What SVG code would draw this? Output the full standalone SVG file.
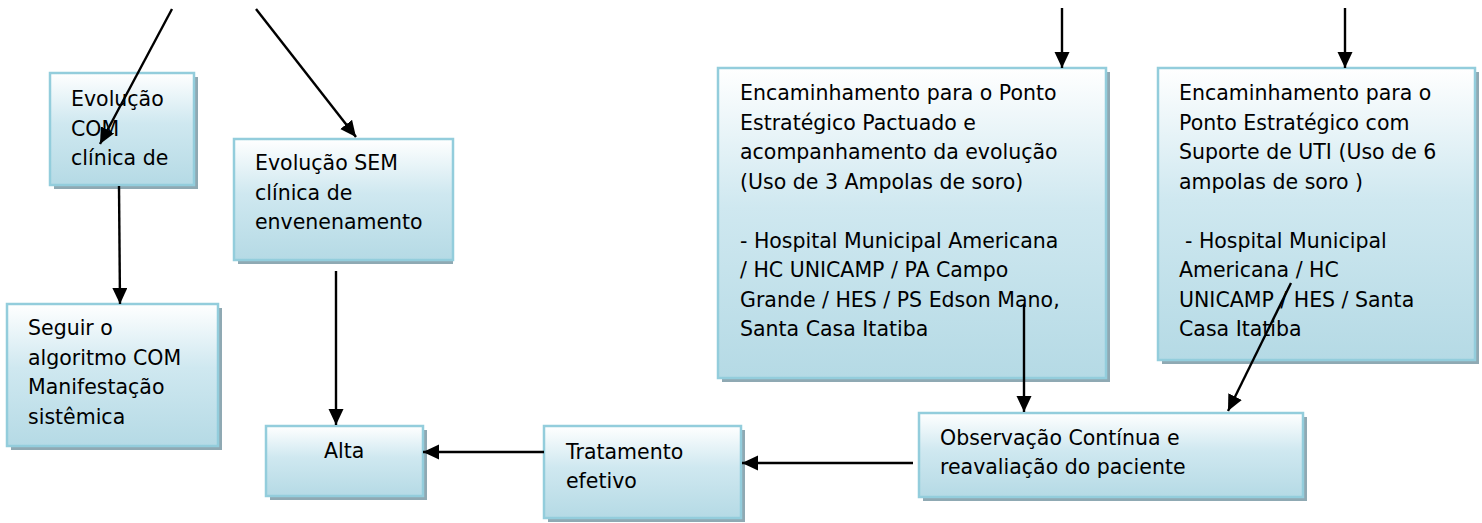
<svg xmlns="http://www.w3.org/2000/svg" width="1482" height="523" viewBox="0 0 1482 523">
<style>
.box{fill:url(#g);stroke:#93cddc;stroke-width:2.5}
.sh{fill:#8fa9b3}
.t{font-family:"DejaVu Sans",Verdana,sans-serif;font-size:20.5px;fill:#000}
.c{stroke:#000;stroke-width:2.4;fill:none;marker-end:url(#ah)}
</style>
<defs>
<linearGradient id="g" x1="0" y1="0" x2="0" y2="1">
<stop offset="0" stop-color="#ffffff"/>
<stop offset="0.45" stop-color="#cfe8f0"/>
<stop offset="1" stop-color="#b5dae5"/>
</linearGradient>
<marker id="ah" markerUnits="userSpaceOnUse" markerWidth="17" markerHeight="16" refX="16" refY="7.5" orient="auto">
<path d="M0,0 L16,7.5 L0,15 Z" fill="#000"/>
</marker>
</defs>
<rect width="1482" height="523" fill="#fff"/>

<g id="n1">
<rect class="sh" x="54" y="77" width="144" height="112"/>
<rect class="box" x="50" y="73" width="144" height="112"/>
<text class="t"><tspan x="71" y="106">Evolução</tspan><tspan x="71" y="135.5">COM</tspan><tspan x="71" y="165">clínica de</tspan></text>
</g>

<g id="n2">
<rect class="sh" x="238" y="143" width="215" height="121"/>
<rect class="box" x="234" y="139" width="219" height="121"/>
<text class="t"><tspan x="255" y="170">Evolução SEM</tspan><tspan x="255" y="199.5">clínica de</tspan><tspan x="255" y="229">envenenamento</tspan></text>
</g>

<g id="n3">
<rect class="sh" x="11" y="308" width="211" height="142"/>
<rect class="box" x="7" y="304" width="211" height="142"/>
<text class="t"><tspan x="28" y="335">Seguir o</tspan><tspan x="28" y="364.5">algoritmo COM</tspan><tspan x="28" y="394">Manifestação</tspan><tspan x="28" y="423.5">sistêmica</tspan></text>
</g>

<g id="n4">
<rect class="sh" x="270" y="430" width="157" height="70"/>
<rect class="box" x="266" y="426" width="157" height="70"/>
<text class="t" x="324" y="458">Alta</text>
</g>

<g id="n5">
<rect class="sh" x="548" y="430" width="197" height="92"/>
<rect class="box" x="544" y="426" width="197" height="92"/>
<text class="t"><tspan x="566" y="459">Tratamento</tspan><tspan x="566" y="488">efetivo</tspan></text>
</g>

<g id="n6">
<rect class="sh" x="923" y="417" width="384" height="84"/>
<rect class="box" x="919" y="413" width="384" height="84"/>
<text class="t"><tspan x="940" y="445">Observação Contínua e</tspan><tspan x="940" y="474">reavaliação do paciente</tspan></text>
</g>

<g id="n7">
<rect class="sh" x="722" y="72" width="388" height="310"/>
<rect class="box" x="718" y="68" width="388" height="310"/>
<text class="t"><tspan x="740" y="100">Encaminhamento para o Ponto</tspan><tspan x="740" y="129.5">Estratégico Pactuado e</tspan><tspan x="740" y="159">acompanhamento da evolução</tspan><tspan x="740" y="188.5">(Uso de 3 Ampolas de soro)</tspan><tspan x="740" y="247.5">- Hospital Municipal Americana</tspan><tspan x="740" y="277">/ HC UNICAMP / PA Campo</tspan><tspan x="740" y="306.5">Grande / HES / PS Edson Mano,</tspan><tspan x="740" y="336">Santa Casa Itatiba</tspan></text>
</g>

<g id="n8">
<rect class="sh" x="1162" y="72" width="317" height="292"/>
<rect class="box" x="1158" y="68" width="317" height="292"/>
<text class="t"><tspan x="1179" y="100">Encaminhamento para o</tspan><tspan x="1179" y="129.5">Ponto Estratégico com</tspan><tspan x="1179" y="159">Suporte de UTI (Uso de 6</tspan><tspan x="1179" y="188.5">ampolas de soro )</tspan><tspan x="1185" y="247.5">- Hospital Municipal</tspan><tspan x="1179" y="277">Americana / HC</tspan><tspan x="1179" y="306.5">UNICAMP / HES / Santa</tspan><tspan x="1179" y="336">Casa Itatiba</tspan></text>
</g>

<g id="connectors">
<line class="c" x1="172" y1="9" x2="100" y2="144"/>
<line class="c" x1="256" y1="9" x2="356" y2="137"/>
<line class="c" x1="119" y1="186" x2="120" y2="304"/>
<line class="c" x1="336" y1="271" x2="336" y2="425"/>
<line class="c" x1="544" y1="452" x2="423" y2="452"/>
<line class="c" x1="913" y1="463" x2="742" y2="463"/>
<line class="c" x1="1024" y1="305" x2="1024" y2="412"/>
<line class="c" x1="1291" y1="283" x2="1228" y2="411"/>
<line class="c" x1="1062" y1="8" x2="1062" y2="68"/>
<line class="c" x1="1345" y1="8" x2="1345" y2="68"/>
</g>
</svg>
